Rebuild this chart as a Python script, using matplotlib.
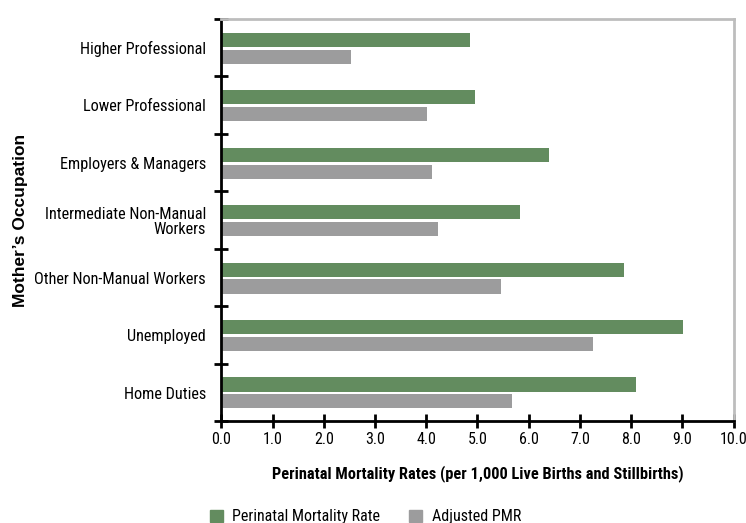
import matplotlib
matplotlib.use("Agg")
import matplotlib.pyplot as plt
from matplotlib.patches import Patch
import numpy as np

categories = [
    "Higher Professional",
    "Lower Professional",
    "Employers & Managers",
    "Intermediate Non-Manual\nWorkers",
    "Other Non-Manual Workers",
    "Unemployed",
    "Home Duties",
]
pmr = [4.85, 4.95, 6.39, 5.83, 7.85, 9.01, 8.09]
adjusted_pmr = [2.53, 4.01, 4.11, 4.23, 5.46, 7.25, 5.67]
x_ticks = [0.0, 1.0, 2.0, 3.0, 4.0, 5.0, 6.0, 7.0, 8.0, 9.0, 10.0]

GREEN = "#638c5f"
GREY = "#9c9c9d"

narrow = ["Roboto Condensed", "Archivo Narrow", "DejaVu Sans"]
bold_font = ["Liberation Sans", "DejaVu Sans"]

fig = plt.figure(figsize=(7.46, 5.23), dpi=100)
ax = fig.add_axes([0.2966, 0.1945, 0.9835 - 0.2966, 0.9637 - 0.1945])

pos = np.arange(len(categories))
h = 0.244
ax.barh(pos - 0.14, pmr, height=h, color=GREEN, label="Perinatal Mortality Rate")
ax.barh(pos + 0.155, adjusted_pmr, height=h, color=GREY, label="Adjusted PMR")

ax.set_xlim(0, 10)
ax.set_ylim(len(categories) - 0.5, -0.5)

ax.set_xticks(x_ticks)
ax.set_xticklabels([f"{v:.1f}" for v in x_ticks], family=narrow, fontsize=11.5)
ax.set_yticks(pos)
ax.set_yticklabels(categories, family=narrow, fontsize=11.7, ha="right",
                   linespacing=1.05)
ax.set_yticks(np.arange(-0.5, len(categories), 1.0), minor=True)

ax.tick_params(axis="y", which="major", length=0, pad=11)
ax.tick_params(axis="y", which="minor", direction="inout", length=10, width=2, color="black")
ax.tick_params(axis="x", which="major", direction="inout", length=10, width=2, color="black", pad=3)

for side in ("left", "bottom"):
    ax.spines[side].set_linewidth(2)
    ax.spines[side].set_color("black")
for side in ("top", "right"):
    ax.spines[side].set_linewidth(2)
    ax.spines[side].set_color("#bdbdbd")

ax.set_xlabel("Perinatal Mortality Rates (per 1,000 Live Births and Stillbirths)",
              family=narrow, fontweight="bold", fontsize=11.8, labelpad=13)
fig.text(0.027, (0.1945 + 0.9637) / 2, "Mother\u2019s Occupation", rotation=90,
         family=bold_font, fontweight="bold", fontsize=12.5, ha="center", va="center")

handles = [Patch(color=GREEN, label="Perinatal Mortality Rate"),
           Patch(color=GREY, label="Adjusted PMR")]
fig.legend(handles=handles, loc="lower center", bbox_to_anchor=(0.49, -0.03), ncol=2,
           frameon=False, prop={"family": narrow, "size": 11.5},
           handlelength=0.8, handleheight=0.8, handletextpad=0.6, columnspacing=1.8)

fig.savefig("out.png", dpi=100)
